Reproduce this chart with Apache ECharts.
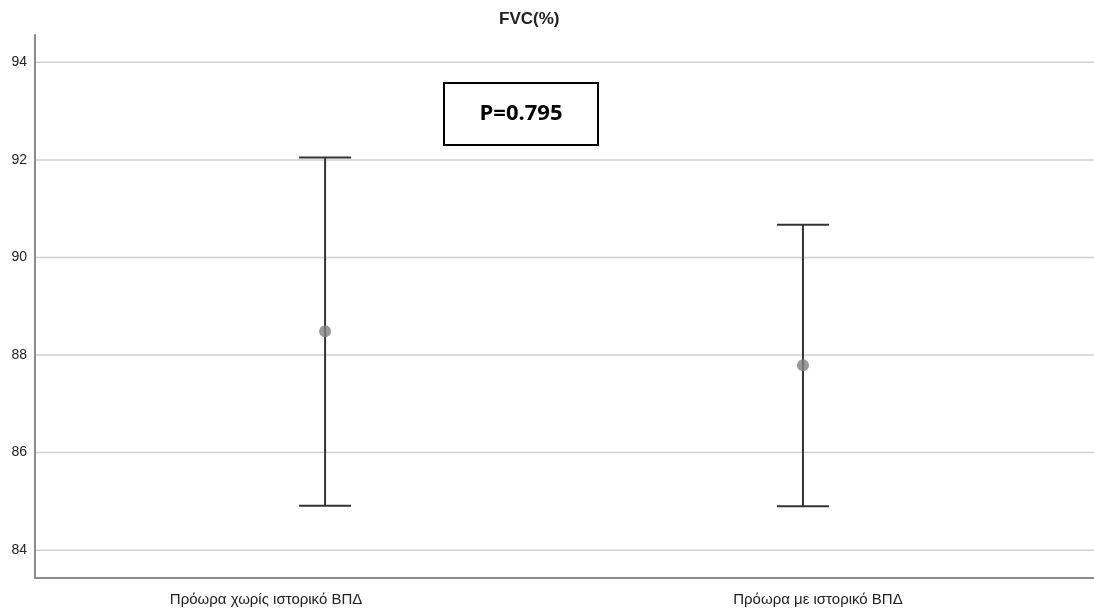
<!DOCTYPE html>
<html>
<head>
<meta charset="utf-8">
<script src="https://cdn.jsdelivr.net/npm/echarts@6/dist/echarts.min.js"></script>
<style>
html,body{margin:0;padding:0;background:#fff;}
#chart{width:1094px;height:614px;}
</style>
</head>
<body>
<div id="chart"></div>
<script>
const categories = ['Πρόωρα χωρίς ιστορικό ΒΠΔ', 'Πρόωρα με ιστορικό ΒΠΔ'];
const means = [88.49, 87.79];
const lower = [84.91, 84.90];
const upper = [92.05, 90.67];
const yTicks = [84, 86, 88, 90, 92, 94];
const title = 'FVC(%)';
const pText = 'P=0.795';

const chart = echarts.init(document.getElementById('chart'));
const idx = categories.map((c, i) => i);
const labelFont = {fontFamily: 'Liberation Sans', fontSize: 15, color: '#222'};

const option = {
  animation: false,
  title: {
    text: title, left: 494, top: 6,
    textStyle: {fontFamily: 'Liberation Sans', fontWeight: 'bold', fontSize: 17, color: '#222'}
  },
  grid: {left: 35, right: 0, top: 35, bottom: 36, containLabel: false},
  xAxis: {
    type: 'value', min: -0.607, max: 1.609,
    axisLine: {show: true, onZero: false, lineStyle: {color: '#8a8a8a', width: 2}},
    axisTick: {show: false},
    splitLine: {show: false},
    axisLabel: {
      customValues: idx,
      formatter: v => {
        const i = Math.round(v);
        if (!categories[i]) return '';
        return '{c' + i + '|' + categories[i] + '}';
      },
      rich: {
        c0: Object.assign({padding: [0, 118, 0, 0]}, labelFont),
        c1: Object.assign({padding: [0, 0, 0, 30]}, labelFont)
      },
      margin: 14
    }
  },
  yAxis: {
    type: 'value', min: 83.43, max: 94.56,
    axisLine: {show: true, onZero: false, lineStyle: {color: '#8a8a8a', width: 2}},
    axisTick: {show: false},
    axisLabel: {
      customValues: yTicks,
      fontFamily: 'Liberation Sans', fontSize: 14, color: '#222', margin: 8
    },
    splitLine: {show: false}
  },
  series: [
    {
      type: 'custom',
      silent: true,
      z: 1,
      renderItem: (params, api) => {
        const y = api.value(0);
        const p0 = api.coord([-0.607, y]);
        const p1 = api.coord([1.609, y]);
        return {type: 'line', shape: {x1: p0[0] + 1, y1: p0[1], x2: p1[0], y2: p1[1]},
          style: {stroke: '#cfcfcf', lineWidth: 1.5}};
      },
      data: yTicks.map(v => [v])
    },
    {
      type: 'custom',
      z: 3,
      renderItem: (params, api) => {
        const x = api.value(0);
        const lo = api.coord([x, api.value(1)]);
        const hi = api.coord([x, api.value(2)]);
        const half = 26;
        const st = {stroke: '#333', lineWidth: 2};
        return {type: 'group', children: [
          {type: 'line', shape: {x1: lo[0], y1: lo[1], x2: hi[0], y2: hi[1]}, style: st},
          {type: 'line', shape: {x1: lo[0] - half, y1: lo[1], x2: lo[0] + half, y2: lo[1]}, style: st},
          {type: 'line', shape: {x1: hi[0] - half, y1: hi[1], x2: hi[0] + half, y2: hi[1]}, style: st}
        ]};
      },
      data: idx.map(i => [i, lower[i], upper[i]])
    },
    {
      type: 'scatter',
      z: 4,
      symbol: 'circle', symbolSize: 12,
      itemStyle: {color: '#7f7f7f'},
      data: idx.map(i => [i, means[i]])
    }
  ],
  graphic: [
    {
      type: 'group', left: 443, top: 82,
      children: [
        {type: 'rect', shape: {x: 0, y: 0, width: 154, height: 62},
          style: {fill: '#fff', stroke: '#000', lineWidth: 2}},
        {type: 'text', x: 77, y: 31,
          style: {text: pText, fontFamily: 'Open Sans', fontWeight: 'bold', fontSize: 22,
            fill: '#000', align: 'center', verticalAlign: 'middle'}}
      ]
    }
  ]
};
chart.setOption(option);
</script>
</body>
</html>
